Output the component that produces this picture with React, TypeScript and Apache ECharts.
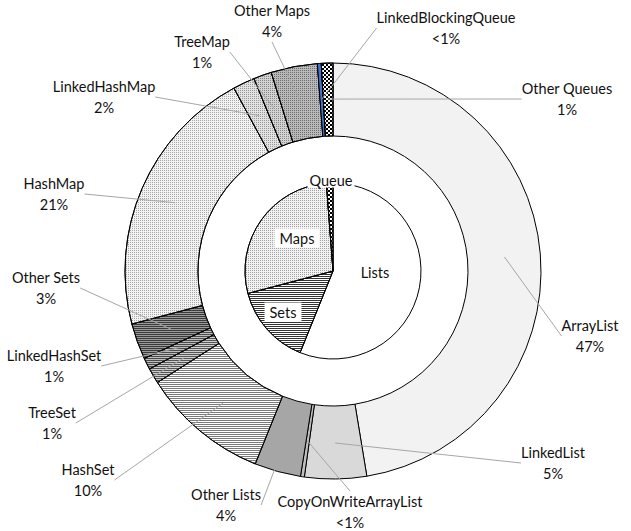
import React, { useEffect, useRef } from "react";
import * as echarts from "echarts";

const categories = [
  "ArrayList", "LinkedList", "CopyOnWriteArrayList", "Other Lists",
  "HashSet", "TreeSet", "LinkedHashSet", "Other Sets",
  "HashMap", "LinkedHashMap", "TreeMap", "Other Maps",
  "LinkedBlockingQueue", "Other Queues",
];
const shares = [47.4, 4.8, 0.3, 3.6, 9.9, 1.2, 0.9, 2.8, 21.2, 1.7, 1.4, 3.6, 0.3, 0.9];

const groups = ["Lists", "Sets", "Maps", "Queue"];
const groupShares = [56.1, 14.8, 27.9, 1.2];

// label centres (layout only)
const outerLabelPos: [number, number][] = [
  [590, 336], [553, 463], [350, 512], [226, 505],
  [88, 480], [52, 423], [54, 366], [46, 288],
  [54, 194], [104, 97], [202, 52], [272, 21],
  [446, 28], [567, 99],
];
const innerLabelPos: [number, number][] = [
  [375, 272], [283, 312], [297, 238], [331, 180],
];

const hLines = (base: string, line: string) => ({
  color: base,
  decal: { symbol: "rect", symbolSize: 1, dashArrayX: [1, 0], dashArrayY: [1, 1], color: line },
});
const dots = (base: string, dot: string) => ({
  color: base,
  decal: { symbol: "rect", symbolSize: 1, dashArrayX: [1, 1], dashArrayY: [1, 1], color: dot },
});
const checker = () => ({
  color: "#ffffff",
  decal: { symbol: "rect", symbolSize: 1, dashArrayX: [[2, 2], [0, 2, 2, 0]], dashArrayY: [2, 0], color: "#000000" },
});

const outerStyles: any[] = [
  { color: "#f2f2f2" },
  { color: "#d9d9d9" },
  { color: "#bfbfbf" },
  { color: "#a6a6a6" },
  hLines("#ffffff", "#7a7a7a"),
  hLines("#cfcfcf", "#555555"),
  hLines("#bdbdbd", "#4a4a4a"),
  hLines("#9a9a9a", "#3a3a3a"),
  dots("#f2f2f2", "#a8a8a8"),
  dots("#e2e2e2", "#989898"),
  dots("#d2d2d2", "#888888"),
  dots("#b8b8b8", "#707070"),
  { color: "#4472c4" },
  checker(),
];
const innerStyles: any[] = [
  { color: "#ffffff" },
  hLines("#ffffff", "#333333"),
  dots("#f2f2f2", "#a0a0a0"),
  checker(),
];

const fmtPct = (v: number) => (v < 0.5 ? "<1%" : Math.round(v) + "%");

export default function App() {
  const ref = useRef<HTMLDivElement>(null);
  useEffect(() => {
    const chart = echarts.init(ref.current!, null, { renderer: "svg" });
    const font = "Lato, 'Open Sans', sans-serif";
    chart.setOption({
      animation: false,
      backgroundColor: "#ffffff",
      series: [
        {
          type: "pie",
          z: 2,
          center: [333, 271],
          radius: [0, 88],
          startAngle: 90,
          clockwise: true,
          avoidLabelOverlap: false,
          itemStyle: { borderColor: "#000", borderWidth: 1 },
          label: {
            show: true,
            position: "inside",
            formatter: "{b}",
            fontFamily: font,
            fontSize: 14.5,
            color: "#111111",
          },
          labelLine: { show: false },
          labelLayout: (p: any) => ({
            x: innerLabelPos[p.dataIndex][0],
            y: innerLabelPos[p.dataIndex][1],
            align: "center",
            verticalAlign: "middle",
          }),
          data: groups.map((g, i) => ({
            name: g,
            value: groupShares[i],
            itemStyle: innerStyles[i],
            label:
              i === 0
                ? {}
                : { backgroundColor: "#ffffff", padding: i === 3 ? [0, 2] : [2, 5] },
          })),
        },
        {
          type: "pie",
          z: 2,
          center: [333, 271],
          radius: [135, 208],
          startAngle: 90,
          clockwise: true,
          avoidLabelOverlap: false,
          itemStyle: { borderColor: "#000", borderWidth: 1 },
          label: { show: false },
          labelLine: { show: false },
          data: categories.map((c, i) => ({
            name: c,
            value: shares[i],
            itemStyle: outerStyles[i],
          })),
        },
        {
          // transparent twin of the outer ring: carries the labels so that
          // the leader lines start inside the ring
          type: "pie",
          z: 10,
          center: [333, 271],
          radius: [135, 172],
          startAngle: 90,
          clockwise: true,
          silent: true,
          avoidLabelOverlap: false,
          itemStyle: { color: "rgba(0,0,0,0)", borderWidth: 0 },
          label: {
            show: true,
            position: "outside",
            formatter: (p: any) => p.name + "\n" + fmtPct(p.value),
            fontFamily: font,
            fontSize: 14.5,
            lineHeight: 21,
            align: "center",
            color: "#111111",
          },
          labelLine: {
            show: true,
            length: 0,
            length2: 0,
            lineStyle: { color: "#a6a6a6", width: 1 },
          },
          labelLayout: (p: any) => ({
            x: outerLabelPos[p.dataIndex][0],
            y: outerLabelPos[p.dataIndex][1],
            align: "center",
            verticalAlign: "middle",
          }),
          data: categories.map((c, i) => ({ name: c, value: shares[i] })),
        },
      ],
    });
    return () => chart.dispose();
  }, []);
  return (
    <div
      ref={ref}
      style={{ position: "fixed", left: 0, top: 0, width: 631, height: 531 }}
    />
  );
}
